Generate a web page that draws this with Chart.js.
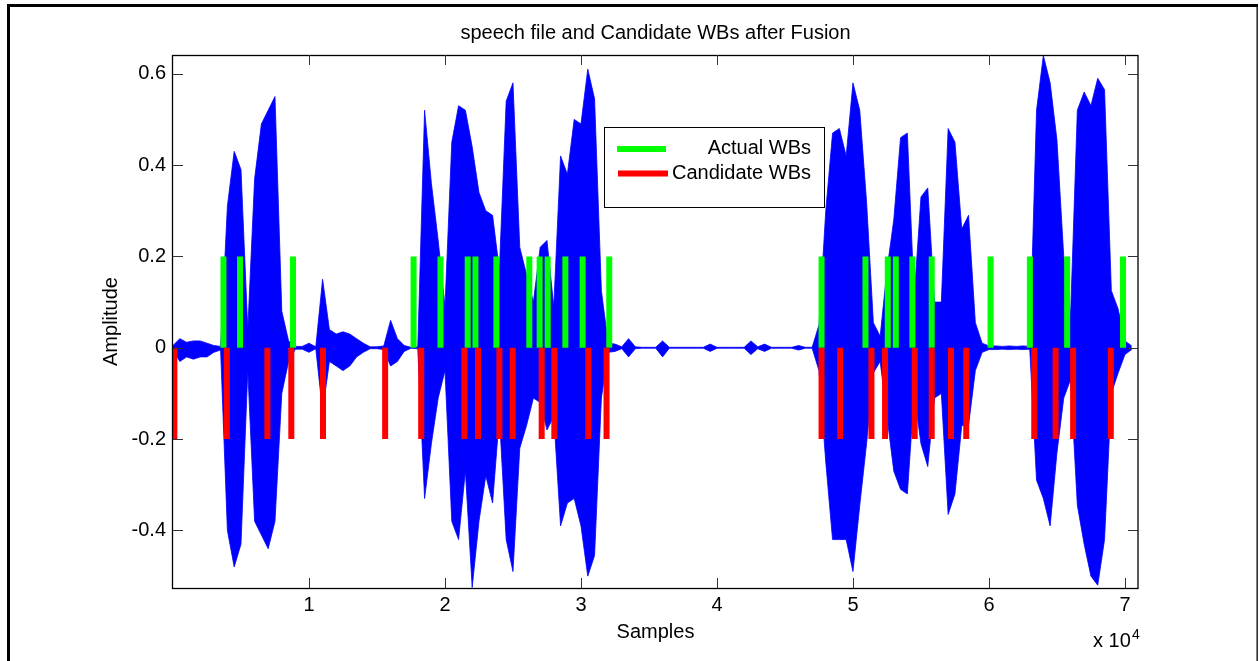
<!DOCTYPE html>
<html>
<head>
<meta charset="utf-8">
<script src="https://cdn.jsdelivr.net/npm/chart.js@4.4.0/dist/chart.umd.min.js"></script>
<style>
  html, body { margin: 0; padding: 0; background: #fff; }
  canvas { display: block; }
</style>
</head>
<body>
<canvas id="myChart" width="1259" height="661"></canvas>
<script>
// speech signal envelope: one max / min pair every 500 samples
const stepSamples = 500;
const waveUpper = [
  0.005, 0.02, 0.012, 0.015, 0.015, 0.01, 0.005, 0.003, 0.31, 0.43,
  0.39, 0.04, 0.37, 0.49, 0.52, 0.55, 0.08, 0.015, 0.003, 0.003,
  0.01, 0.002, 0.15, 0.04, 0.03, 0.035, 0.03, 0.02, 0.01, 0.002,
  0.002, 0.004, 0.06, 0.02, 0.005, 0.001, 0.002, 0.52, 0.36, 0.235,
  0.09, 0.45, 0.53, 0.52, 0.44, 0.34, 0.30, 0.29, 0.17, 0.54,
  0.58, 0.22, 0.16, 0.10, 0.22, 0.235, 0.09, 0.42, 0.38, 0.50,
  0.49, 0.61, 0.545, 0.125, 0.01, 0.008, 0.002, 0.02, 0.002, 0.001,
  0.001, 0.001, 0.015, 0.001, 0.001, 0.001, 0.001, 0.001, 0.001, 0.008,
  0.001, 0.001, 0.001, 0.001, 0.001, 0.015, 0.002, 0.008, 0.001, 0.001,
  0.001, 0.001, 0.005, 0.001, 0.001, 0.05, 0.30, 0.47, 0.48, 0.42,
  0.58, 0.52, 0.32, 0.055, 0.025, 0.17, 0.28, 0.46, 0.47, 0.11,
  0.33, 0.35, 0.10, 0.10, 0.48, 0.45, 0.26, 0.29, 0.055, 0.01,
  0.004, 0.004, 0.003, 0.004, 0.003, 0.004, 0.003, 0.52, 0.64, 0.58,
  0.455, 0.20, 0.07, 0.52, 0.56, 0.53, 0.59, 0.565, 0.125, 0.085,
  0.015, 0.004
];
const waveLower = [
  -0.005, -0.03, -0.02, -0.025, -0.02, -0.02, -0.01, -0.005, -0.40, -0.48,
  -0.43, -0.05, -0.38, -0.41, -0.44, -0.38, -0.10, -0.03, -0.003, -0.003,
  -0.01, -0.002, -0.14, -0.03, -0.04, -0.05, -0.04, -0.02, -0.01, -0.002,
  -0.002, -0.004, -0.04, -0.03, -0.008, -0.001, -0.002, -0.33, -0.21, -0.11,
  -0.05, -0.38, -0.42, -0.27, -0.525, -0.38, -0.28, -0.34, -0.15, -0.42,
  -0.49, -0.22, -0.17, -0.11, -0.12, -0.18, -0.15, -0.39, -0.34, -0.33,
  -0.39, -0.50, -0.455, -0.11, -0.01, -0.008, -0.002, -0.02, -0.002, -0.001,
  -0.001, -0.001, -0.02, -0.001, -0.001, -0.001, -0.001, -0.001, -0.001, -0.008,
  -0.001, -0.001, -0.001, -0.001, -0.001, -0.015, -0.002, -0.008, -0.001, -0.001,
  -0.001, -0.001, -0.005, -0.001, -0.001, -0.05, -0.25, -0.42, -0.42, -0.42,
  -0.49, -0.345, -0.21, -0.055, -0.03, -0.15, -0.27, -0.31, -0.32, -0.10,
  -0.21, -0.26, -0.11, -0.10, -0.365, -0.32, -0.17, -0.17, -0.05, -0.01,
  -0.004, -0.004, -0.003, -0.004, -0.003, -0.004, -0.003, -0.29, -0.33, -0.39,
  -0.23, -0.11, -0.07, -0.345, -0.43, -0.50, -0.52, -0.42, -0.10, -0.055,
  -0.015, -0.004
];

// word boundaries (sample index)
const actualWBs = [3710, 4930, 8825, 17690, 19670, 21670, 22240, 23780, 26200, 26960,
  27550, 28850, 30120, 32080, 47690, 50920, 52560, 53150, 54370, 55790,
  60120, 63010, 65750, 69860];
const candidateWBs = [100, 3960, 6940, 8700, 11030, 15600, 18250, 21430, 22430, 24000,
  24980, 27110, 28040, 30540, 31880, 47690, 49060, 51360, 52360, 54540,
  55790, 57210, 58330, 63330, 64900, 66190, 68960];
const actualLevel = 0.2;
const candidateLevel = -0.2;

const xTickValues = [10000, 20000, 30000, 40000, 50000, 60000, 70000];
const xTickLabels = ['1', '2', '3', '4', '5', '6', '7'];
const yTickValues = [-0.4, -0.2, 0, 0.2, 0.4, 0.6];
const yTickLabels = ['-0.4', '-0.2', '0', '0.2', '0.4', '0.6'];
const xRange = [0, 70960];
const yRange = [-0.526, 0.641];

const FONT = '"Liberation Sans", Arial, Helvetica, sans-serif';

const upperPoints = waveUpper.map((u, i) => ({x: i * stepSamples, y: u}));
const lowerPoints = waveLower.map((l, i) => ({x: i * stepSamples, y: l}));

function stems(xs, level) {
  const pts = [];
  xs.forEach(x => { pts.push({x: x, y: 0}, {x: x, y: level}, {x: x, y: null}); });
  return pts;
}

// axes box, inward ticks, labels, legend and figure frame
const matlabDecor = {
  id: 'matlabDecor',
  afterDraw(chart) {
    const ctx = chart.ctx;
    const a = chart.chartArea;
    const xs = chart.scales.x, ys = chart.scales.y;
    ctx.save();

    ctx.strokeStyle = '#000';
    ctx.lineWidth = 1.3;
    ctx.strokeRect(a.left - 0.5, a.top + 0.5, a.right - a.left + 0.5, a.bottom - a.top);

    ctx.strokeStyle = '#333';
    ctx.lineWidth = 1;
    ctx.beginPath();
    xTickValues.forEach(v => {
      const px = Math.round(xs.getPixelForValue(v)) + 0.5;
      ctx.moveTo(px, a.bottom); ctx.lineTo(px, a.bottom - 10);
      ctx.moveTo(px, a.top); ctx.lineTo(px, a.top + 10);
    });
    yTickValues.forEach(v => {
      const py = Math.round(ys.getPixelForValue(v)) + 0.5;
      ctx.moveTo(a.left, py); ctx.lineTo(a.left + 10, py);
      ctx.moveTo(a.right, py); ctx.lineTo(a.right - 10, py);
    });
    ctx.stroke();

    ctx.fillStyle = '#000';
    ctx.font = '20px ' + FONT;
    ctx.textAlign = 'center';
    ctx.textBaseline = 'alphabetic';
    ctx.fillText('speech file and Candidate WBs after Fusion', (a.left + a.right) / 2, 39);
    ctx.fillText('Samples', (a.left + a.right) / 2, 638);
    ctx.save();
    ctx.translate(117, (a.top + a.bottom) / 2);
    ctx.rotate(-Math.PI / 2);
    ctx.fillText('Amplitude', 0, 0);
    ctx.restore();

    ctx.textAlign = 'left';
    ctx.fillText('x 10', 1093, 647);
    ctx.font = '14px ' + FONT;
    ctx.fillText('4', 1132, 639);

    // legend
    ctx.fillStyle = '#fff';
    ctx.fillRect(604.5, 127.5, 220, 80);
    ctx.strokeStyle = '#000';
    ctx.lineWidth = 1;
    ctx.strokeRect(604.5, 127.5, 220, 80);
    ctx.lineWidth = 6;
    ctx.strokeStyle = '#00ff00';
    ctx.beginPath(); ctx.moveTo(617, 149); ctx.lineTo(666, 149); ctx.stroke();
    ctx.strokeStyle = '#ff0000';
    ctx.beginPath(); ctx.moveTo(618, 173.5); ctx.lineTo(668, 173.5); ctx.stroke();
    ctx.fillStyle = '#000';
    ctx.font = '20px ' + FONT;
    ctx.textAlign = 'right';
    ctx.fillText('Actual WBs', 811, 153.5);
    ctx.fillText('Candidate WBs', 811, 178.5);

    // figure frame
    ctx.fillStyle = '#000';
    ctx.fillRect(7, 4, 3, 657);
    ctx.fillRect(7, 4, 1251, 3);
    ctx.fillRect(1256.5, 4, 1.3, 657);
    ctx.restore();
  }
};

const data = {
  datasets: [
    {
      label: 'Candidate WBs',
      data: stems(candidateWBs, candidateLevel),
      borderColor: '#ff0000',
      borderWidth: 6,
      borderCapStyle: 'butt',
      pointRadius: 0,
      spanGaps: false,
      order: 0
    },
    {
      label: 'Actual WBs',
      data: stems(actualWBs, actualLevel),
      borderColor: '#00ff00',
      borderWidth: 6,
      borderCapStyle: 'butt',
      pointRadius: 0,
      spanGaps: false,
      order: 1
    },
    {
      label: 'speech max',
      data: upperPoints,
      borderColor: '#0000ff',
      backgroundColor: '#0000ff',
      borderWidth: 0.8,
      pointRadius: 0,
      tension: 0,
      fill: '+1',
      order: 2
    },
    {
      label: 'speech min',
      data: lowerPoints,
      borderColor: '#0000ff',
      borderWidth: 0.8,
      pointRadius: 0,
      tension: 0,
      fill: false,
      order: 3
    }
  ]
};

const config = {
  type: 'line',
  data,
  options: {
    responsive: false,
    animation: false,
    devicePixelRatio: 1,
    layout: { padding: { left: 0, top: 55, right: 121, bottom: 0 } },
    plugins: { legend: { display: false }, tooltip: { enabled: false } },
    scales: {
      x: {
        type: 'linear',
        min: xRange[0],
        max: xRange[1],
        afterBuildTicks: axis => { axis.ticks = xTickValues.map(v => ({ value: v })); },
        afterFit: axis => { axis.height = 73; },
        grid: { display: false, drawTicks: false },
        border: { display: false },
        ticks: {
          autoSkip: false,
          maxRotation: 0,
          padding: 5,
          color: '#000',
          font: { family: FONT, size: 20 },
          callback: (v, i) => xTickLabels[i]
        }
      },
      y: {
        type: 'linear',
        min: yRange[0],
        max: yRange[1],
        afterBuildTicks: axis => { axis.ticks = yTickValues.map(v => ({ value: v })); },
        afterFit: axis => { axis.width = 173; },
        grid: { display: false, drawTicks: false },
        border: { display: false },
        ticks: {
          padding: 7,
          color: '#000',
          font: { family: FONT, size: 20 },
          callback: (v, i) => yTickLabels[i]
        }
      }
    }
  },
  plugins: [matlabDecor]
};

const myChart = new Chart(document.getElementById('myChart'), config);
</script>
</body>
</html>
